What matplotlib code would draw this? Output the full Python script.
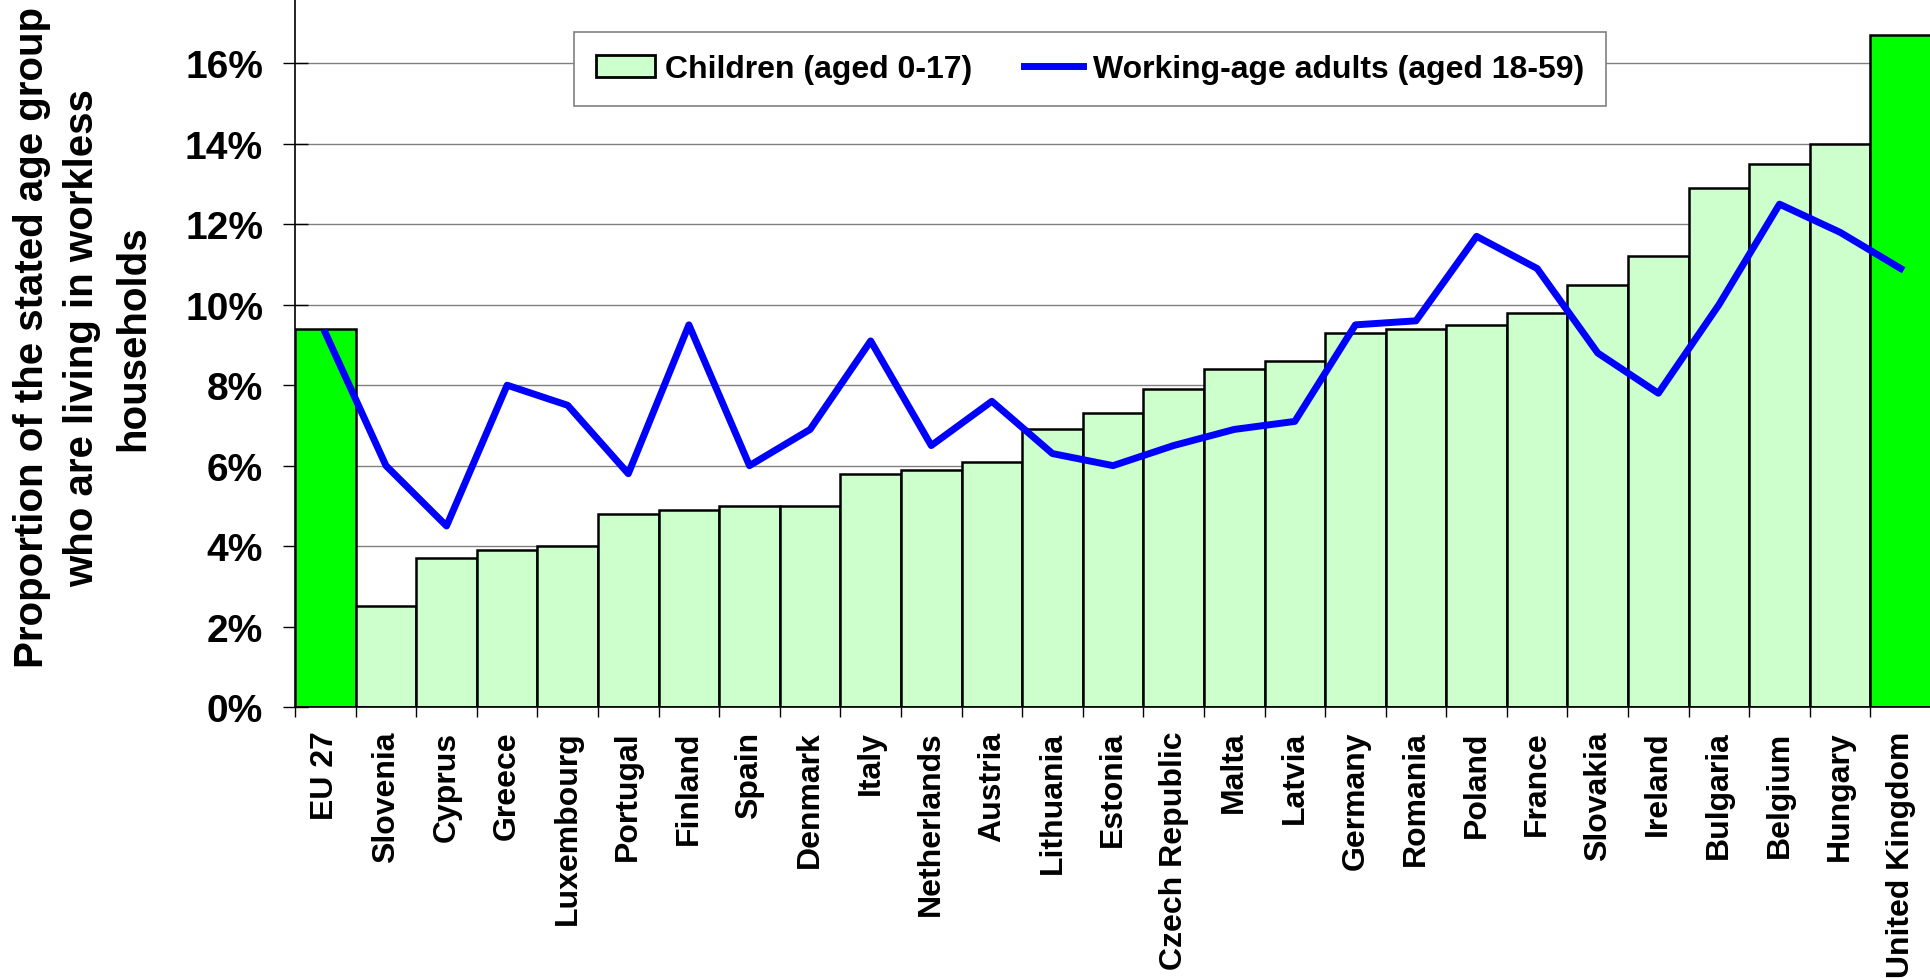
import numpy as np
import matplotlib.pyplot as plt
from matplotlib.patches import Patch
from matplotlib.lines import Line2D

plt.rcParams['font.family'] = ['Liberation Sans', 'DejaVu Sans']
plt.rcParams['font.weight'] = 'bold'

# valeurs (en %)
pays = ['EU 27', 'Slovenia', 'Cyprus', 'Greece', 'Luxembourg', 'Portugal',
        'Finland', 'Spain', 'Denmark', 'Italy', 'Netherlands', 'Austria',
        'Lithuania', 'Estonia', 'Czech Republic', 'Malta', 'Latvia', 'Germany',
        'Romania', 'Poland', 'France', 'Slovakia', 'Ireland', 'Bulgaria',
        'Belgium', 'Hungary', 'United Kingdom']
enfants = [9.4, 2.5, 3.7, 3.9, 4.0, 4.8, 4.9, 5.0, 5.0, 5.8, 5.9, 6.1, 6.9,
           7.3, 7.9, 8.4, 8.6, 9.3, 9.4, 9.5, 9.8, 10.5, 11.2, 12.9, 13.5,
           14.0, 16.7]
adultes = [9.3, 6.0, 4.5, 8.0, 7.5, 5.8, 9.5, 6.0, 6.9, 9.1, 6.5, 7.6, 6.3,
           6.0, 6.5, 6.9, 7.1, 9.5, 9.6, 11.7, 10.9, 8.8, 7.8, 10.0, 12.5,
           11.8, 10.9]
yticks = [0, 2, 4, 6, 8, 10, 12, 14, 16]

x = np.arange(len(pays))
couleurs = ['#00FF00' if p in ('EU 27', 'United Kingdom') else '#CCFFCC' for p in pays]

fig = plt.figure(figsize=(19.31, 9.79), dpi=100)
ax = fig.add_axes([0.1528, 0.2768, 0.8472, 0.7232])

ax.bar(x, enfants, width=1.0, color=couleurs, edgecolor='black', linewidth=1.8,
       zorder=2)
ax.plot(x, adultes, color='#0000FF', linewidth=5, zorder=3)

ax.set_xlim(-0.5, len(pays) - 0.5)
ax.set_ylim(0, 17.6)
ax.set_yticks(yticks)
ax.set_yticklabels([f'{v}%' for v in yticks], fontsize=28, fontweight='bold')
ax.set_xticks(x)
ax.set_xticklabels(pays, rotation=90, fontsize=23, fontweight='bold')
ax.set_xticks(np.arange(len(pays) + 1) - 0.5, minor=True)
ax.tick_params(axis='x', which='major', length=0, pad=17)
ax.tick_params(axis='x', which='minor', length=7, width=1, direction='out')
ax.tick_params(axis='y', length=18, width=1, direction='inout', pad=14)

ax.grid(axis='y', color='#808080', linewidth=1)
ax.set_axisbelow(True)
for s in ['top', 'right']:
    ax.spines[s].set_visible(False)
ax.spines['left'].set_linewidth(1.2)
ax.spines['bottom'].set_linewidth(1.2)

ylab = ax.set_ylabel('Proportion of the stated age group\nwho are living in workless\nhouseholds',
                     fontsize=29, fontweight='bold', linespacing=1.42)
ylab.set_verticalalignment('center')
ax.yaxis.set_label_coords(-0.13, 0.523)

poignees = [Patch(facecolor='#CCFFCC', edgecolor='black', linewidth=2),
            Line2D([], [], color='#0000FF', linewidth=5)]
leg = ax.legend(poignees, ['Children (aged 0-17)', 'Working-age adults (aged 18-59)'],
                loc='upper center', bbox_to_anchor=(0.486, 0.954), ncol=2,
                fontsize=23, frameon=True, fancybox=False, framealpha=1,
                edgecolor='#808080', borderpad=0.7, columnspacing=1.6,
                handlelength=1.85, handletextpad=0.31, borderaxespad=0)
leg.get_frame().set_linewidth(1.2)
for t in leg.get_texts():
    t.set_fontweight('bold')

fig.savefig('out.png', dpi=100)
